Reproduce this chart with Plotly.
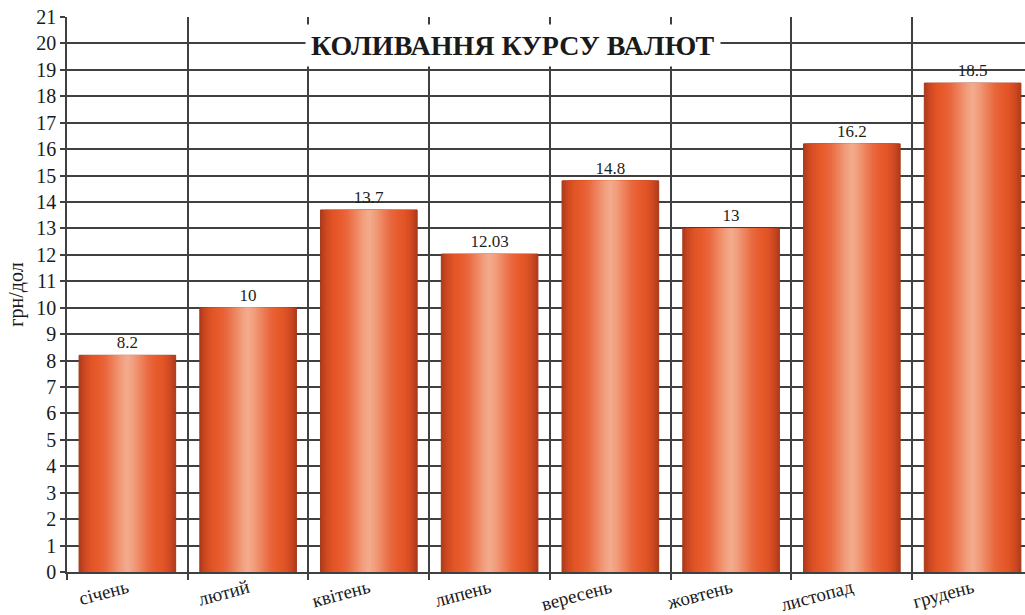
import plotly.graph_objects as go

months = ["січень", "лютий", "квітень", "липень", "вересень", "жовтень", "листопад", "грудень"]
rates = [8.2, 10, 13.7, 12.03, 14.8, 13, 16.2, 18.5]
rate_labels = ["8.2", "10", "13.7", "12.03", "14.8", "13", "16.2", "18.5"]
y_ticks = list(range(0, 22))

title_text = "КОЛИВАННЯ КУРСУ ВАЛЮТ"
y_title = "грн/дол"

SERIF = "Liberation Serif"
GRID = "#404040"

# colour profile across the bar: r = 0 at centre, 1 at edge
stops = [
    (0.00, (243, 172, 142)),
    (0.15, (241, 154, 120)),
    (0.30, (237, 128, 90)),
    (0.45, (233, 104, 62)),
    (0.60, (231, 91, 45)),
    (0.75, (225, 84, 38)),
    (0.88, (206, 73, 34)),
    (1.00, (174, 58, 26)),
]


def colour_at(r):
    for (r0, c0), (r1, c1) in zip(stops[:-1], stops[1:]):
        if r0 <= r <= r1:
            t = (r - r0) / (r1 - r0)
            c = [round(a + (b - a) * t) for a, b in zip(c0, c1)]
            return "rgb(%d,%d,%d)" % tuple(c)
    return "rgb(%d,%d,%d)" % stops[-1][1]


BAR_W = 0.8
N_LAYERS = 24

fig = go.Figure()
for k in range(N_LAYERS):
    frac = 1 - k / N_LAYERS
    r_mid = 1 - (k + 0.5) / N_LAYERS
    first = k == 0
    fig.add_trace(go.Bar(
        x=months,
        y=rates,
        width=BAR_W * frac,
        marker=dict(color=colour_at(r_mid),
                    line=dict(width=1 if first else 0, color="rgb(165,55,24)")),
        text=rate_labels if first else None,
        textposition="outside" if first else None,
        textfont=dict(family=SERIF, size=17, color="#1e1e1e"),
        constraintext="none",
        cliponaxis=False,
        hoverinfo="skip",
        showlegend=False,
    ))

fig.add_annotation(
    text="<b>" + title_text + "</b>",
    xref="paper", yref="paper",
    x=0.466, y=0.948,
    xanchor="center", yanchor="middle",
    showarrow=False,
    font=dict(family=SERIF, size=28, color="#1a1a1a"),
    bgcolor="white",
    borderpad=5,
)

fig.update_layout(
    width=1025, height=615,
    margin=dict(l=67, r=0, t=17, b=43),
    paper_bgcolor="white",
    plot_bgcolor="white",
    barmode="overlay",
    bargap=0.2,
    showlegend=False,
    xaxis=dict(
        type="category",
        range=[-0.5, 7.434],
        automargin=False,
        tickson="boundaries",
        ticks="outside",
        ticklen=6,
        tickwidth=1.5,
        tickcolor=GRID,
        showgrid=True,
        gridcolor=GRID,
        gridwidth=1.5,
        showline=True,
        linecolor=GRID,
        linewidth=1.5,
        tickangle=-15,
        ticklabelstandoff=-4,
        tickfont=dict(family=SERIF, size=19, color="#1a1a1a"),
    ),
    yaxis=dict(
        range=[0, 21],
        automargin=False,
        tickvals=y_ticks,
        ticks="outside",
        ticklen=5,
        tickwidth=1.5,
        tickcolor=GRID,
        showgrid=True,
        gridcolor=GRID,
        gridwidth=1.5,
        showline=True,
        linecolor=GRID,
        linewidth=1.5,
        zeroline=False,
        tickfont=dict(family=SERIF, size=20, color="#1a1a1a"),
        title=dict(text=y_title, font=dict(family=SERIF, size=20, color="#1a1a1a"), standoff=7),
    ),
)

fig.write_html(
    "out.html",
    config={"displayModeBar": False},
    post_script="document.body.style.margin='0';document.body.style.overflow='hidden';",
)
